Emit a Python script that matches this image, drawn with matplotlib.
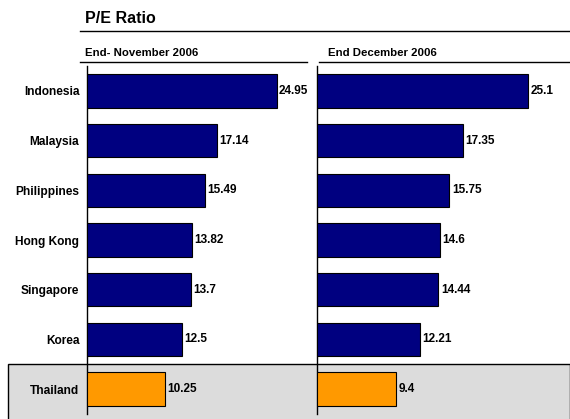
import matplotlib
matplotlib.use("Agg")
import matplotlib.pyplot as plt
from matplotlib.patches import Rectangle
from matplotlib.lines import Line2D

plt.rcParams['font.family'] = ['Liberation Sans', 'DejaVu Sans']

countries = ["Indonesia", "Malaysia", "Philippines", "Hong Kong", "Singapore", "Korea", "Thailand"]
nov_values = [24.95, 17.14, 15.49, 13.82, 13.7, 12.5, 10.25]
dec_values = [25.1, 17.35, 15.75, 14.6, 14.44, 12.21, 9.4]
nov_labels = ["24.95", "17.14", "15.49", "13.82", "13.7", "12.5", "10.25"]
dec_labels = ["25.1", "17.35", "15.75", "14.6", "14.44", "12.21", "9.4"]
title = "P/E Ratio"
sub_left = "End- November 2006"
sub_right = "End December 2006"

W, H = 570, 419
fig = plt.figure(figsize=(W / 100, H / 100), dpi=100)

def fx(px):
    return px / W

def fy(py):
    return 1 - py / H

navy = "#000080"
orange = "#FF9900"
colors = [navy] * 6 + [orange]

# gray highlight band for Thailand
band = Rectangle((fx(7.5), fy(419.5)), fx(570) - fx(7.5), fy(364) - fy(419.5),
                 transform=fig.transFigure, facecolor="#DCDCDC",
                 edgecolor="black", linewidth=1.0, zorder=-5)
fig.patches.append(band)

ax_top, ax_bot = 66, 414
axL = fig.add_axes([fx(87), fy(ax_bot), fx(312) - fx(87), fy(ax_top) - fy(ax_bot)])
axR = fig.add_axes([fx(317), fy(ax_bot), fx(569) - fx(317), fy(ax_top) - fy(ax_bot)])

for ax, vals, labs, xmax in [(axL, nov_values, nov_labels, 29.6), (axR, dec_values, dec_labels, 30.0)]:
    ax.set_zorder(2)
    ax.patch.set_visible(False)
    y = list(range(len(countries)))
    ax.barh(y, vals, height=0.675, color=colors, edgecolor="black", linewidth=0.8, zorder=3)
    for yi, v, t in zip(y, vals, labs):
        ax.text(v + 0.3, yi, t, va="center", ha="left", fontsize=8.5,
                fontweight="bold", color="black")
    ax.set_xlim(0, xmax)
    ax.set_ylim(6.5, -0.5)
    for s in ["top", "right", "bottom"]:
        ax.spines[s].set_visible(False)
    ax.spines["left"].set_linewidth(1.0)
    ax.set_xticks([])
    ax.tick_params(axis="y", length=0, pad=5.5)
    if ax is axL:
        ax.set_yticks(y)
        ax.set_yticklabels(countries, fontsize=8.6, fontweight="bold")
    else:
        ax.set_yticks([])

# title and subtitles
fig.text(fx(85), fy(23), title, fontsize=11.5, fontweight="bold", ha="left", va="baseline")
fig.lines.append(Line2D([fx(80), fx(570)], [fy(31), fy(31)], transform=fig.transFigure,
                        color="black", linewidth=1.0))
fig.text(fx(85), fy(56), sub_left, fontsize=8.2, fontweight="bold", ha="left", va="baseline")
fig.text(fx(328), fy(56), sub_right, fontsize=8.2, fontweight="bold", ha="left", va="baseline")
fig.lines.append(Line2D([fx(80), fx(307)], [fy(62), fy(62)], transform=fig.transFigure,
                        color="black", linewidth=1.0))
fig.lines.append(Line2D([fx(319), fx(570)], [fy(62), fy(62)], transform=fig.transFigure,
                        color="black", linewidth=1.0))

fig.savefig("out.png", dpi=100, facecolor="white")
